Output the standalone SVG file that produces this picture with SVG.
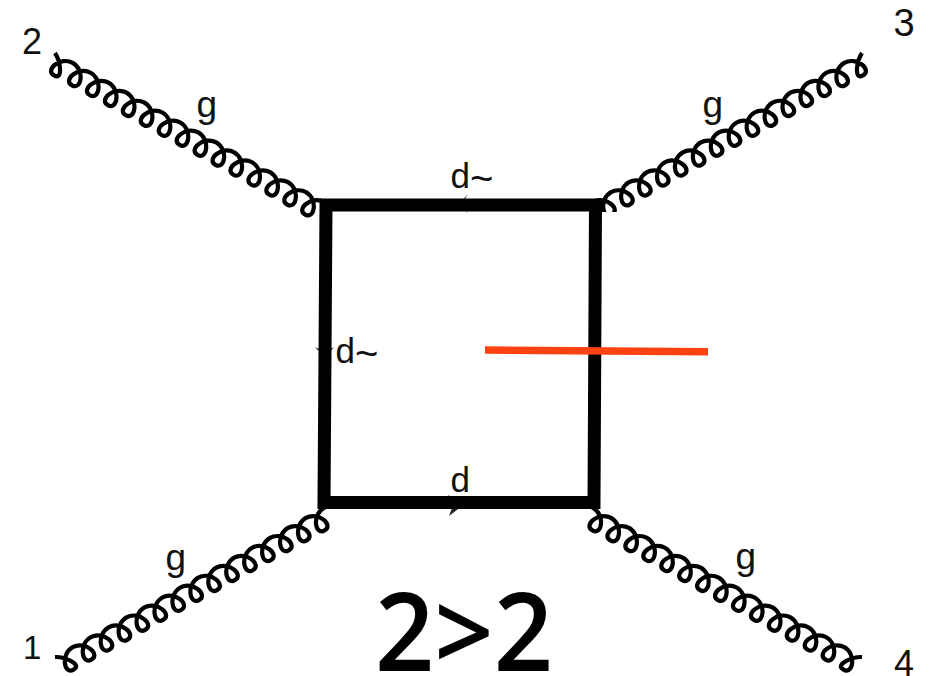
<svg xmlns="http://www.w3.org/2000/svg" xmlns:xlink="http://www.w3.org/1999/xlink" width="933" height="676" viewBox="0 0 933 676">
<style>
text{font-family:"Liberation Sans",Arial,sans-serif;fill:#111}
.num{font-size:33px}
.g{font-size:37px}
.d{font-size:35px}
.tl{font-size:40px}
.gl{fill:none;stroke:#000;stroke-width:4.200;stroke-linecap:butt}
text.big{font-family:"Open Sans",sans-serif;font-size:109px;fill:#000;font-weight:600}
</style>
<defs>
<path id="gluon" class="gl" d="M0 0C8 4 21 20 10 20
c-11 0-3.750-20 10.250-20c14 0 21.250 20 10.250 20
c-11 0-3.750-20 10.250-20c14 0 21.250 20 10.250 20
c-11 0-3.750-20 10.250-20c14 0 21.250 20 10.250 20
c-11 0-3.750-20 10.250-20c14 0 21.250 20 10.250 20
c-11 0-3.750-20 10.250-20c14 0 21.250 20 10.250 20
c-11 0-3.750-20 10.250-20c14 0 21.250 20 10.250 20
c-11 0-3.750-20 10.250-20c14 0 21.250 20 10.250 20
c-11 0-3.750-20 10.250-20c14 0 21.250 20 10.250 20
c-11 0-3.750-20 10.250-20c14 0 21.250 20 10.250 20
c-11 0-3.750-20 10.250-20c14 0 21.250 20 10.250 20
c-11 0-3.750-20 10.250-20c14 0 21.250 20 10.250 20
c-11 0-3.750-20 10.250-20c14 0 21.250 20 10.250 20
c-11 0-3.750-20 10.250-20c14 0 21.250 20 10.250 20
c-11 0-3.750-20 10.250-20c14 0 21.250 20 10.250 20
c-11 0-3.750-20 10.250-20c6 0 8 1 10 3"/>
<clipPath id="clip3"><path d="M590 0H933V676H617V212H590z"/></clipPath>
</defs>
<g id="connectors">
<use id="gluon-2" xlink:href="#gluon" href="#gluon" transform="matrix(.875 .485 -.485 .875 55 53)"/>
<g clip-path="url(#clip3)"><use id="gluon-3" xlink:href="#gluon" href="#gluon" transform="matrix(-.875 .485 .485 .875 862 53)"/></g>
<use id="gluon-1" xlink:href="#gluon" href="#gluon" transform="matrix(.875 -.485 .485 .875 55 657)"/>
<use id="gluon-4" xlink:href="#gluon" href="#gluon" transform="matrix(-.875 -.485 -.485 .875 862 657)"/>
<path id="arrow-top" d="M458 205L468 194L461 205L468 213z" fill="#222"/>
<path id="arrow-left" d="M325 358L315 347L325 352L334 347z" fill="#222"/>
<path id="arrow-bottom" d="M466 503L448 495L454 503L449 516z" fill="#222"/>
<path id="quark-loop" d="M326 205H595.500L594 502.500H324z" fill="none" stroke="#000" stroke-width="13"/>
<path id="cut" d="M485 350L708 351.700" fill="none" stroke="#ff4212" stroke-width="7.500"/>
</g>
<g id="node-1"><text class="num" x="23" y="659">1</text><text class="g" x="165.500" y="570">g</text></g>
<g id="node-2"><text class="num" x="22" y="53.500" style="font-size:36px">2</text><text class="g" x="196.500" y="117">g</text></g>
<g id="node-3"><text class="num" x="893.500" y="36" style="font-size:38px">3</text><text class="g" x="702.500" y="117">g</text></g>
<g id="node-4"><text class="num" x="894" y="676" style="font-size:36px">4</text><text class="g" x="735.500" y="569">g</text></g>
<g id="edge-labels"><text class="d" x="450.500" y="188">d<tspan class="tl" dy="4">~</tspan></text><text class="d" x="335.500" y="362.500">d<tspan class="tl" dy="4">~</tspan></text><text class="d" x="450.500" y="492">d</text></g>
<g id="title"><text class="big" x="375" y="671" textLength="178" lengthAdjust="spacingAndGlyphs">2&gt;2</text></g>
</svg>
